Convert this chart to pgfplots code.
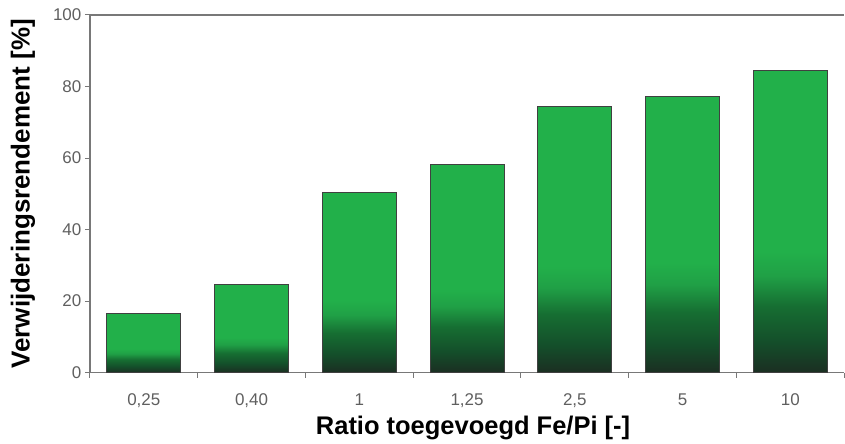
\documentclass[border=0pt]{standalone}
\usepackage{pgfplots}
\pgfplotsset{compat=1.18}
\usepackage{fontspec}
\setmainfont{Liberation Sans}
\definecolor{bgreen}{RGB}{34,176,74}
\definecolor{bgreen2}{RGB}{32,160,70}
\definecolor{bmid}{RGB}{22,110,50}
\definecolor{bmid2}{RGB}{20,78,42}
\definecolor{bdark}{RGB}{27,46,34}
\definecolor{axisgray}{RGB}{120,120,120}
\definecolor{labgray}{RGB}{95,95,95}
\pgfdeclareverticalshading{barshade}{100bp}{color(0bp)=(bdark); color(25bp)=(bdark); color(30bp)=(bmid2); color(36bp)=(bmid); color(41bp)=(bgreen2); color(45bp)=(bgreen); color(100bp)=(bgreen)}
\pgfplotsset{gbar/.style={ybar, bar width=74pt, bar shift=0pt, draw=black!75, line width=0.9pt, shade, shading=barshade}}
\begin{document}
\begin{tikzpicture}
\begin{axis}[
  name=ax,
  scale only axis, width=755pt, height=358pt,
  xmin=-0.5, xmax=6.5, ymin=0, ymax=100,
  axis x line*=bottom, axis y line*=left,
  axis line style={-, draw=axisgray, line width=1.6pt},
  ytick={0,20,...,100},
  xtick={0,...,6},
  xticklabels={{0,25},{0,40},1,{1,25},{2,5},5,10},
  major x tick style={draw=none},
  minor xtick={-0.5,0.5,...,6.5},
  tick align=outside,
  tick style={draw=axisgray, line width=1pt},
  major tick length=5pt, minor tick length=5pt,
  /pgf/number format/assume math mode=true,
  ticklabel style={font=\fontsize{17}{20}\selectfont, text=labgray},
  xticklabel style={yshift=-12.5pt},
  xlabel={Ratio toegevoegd Fe/Pi [-]},
  ylabel={Verwijderingsrendement [\%]},
  xlabel style={font=\bfseries\fontsize{25.5}{28}\selectfont, at={([xshift=6pt]axis description cs:0.5,0)}, anchor=base, yshift=-62pt},
  ylabel style={font=\bfseries\fontsize{26}{30}\selectfont, at={([xshift=-67pt]axis description cs:0,0.5)}, anchor=center},
]
\addplot[gbar] coordinates {(0,16.6)};
\addplot[gbar] coordinates {(1,24.6)};
\addplot[gbar] coordinates {(2,50.4)};
\addplot[gbar] coordinates {(3,58.1)};
\addplot[gbar] coordinates {(4,74.4)};
\addplot[gbar] coordinates {(5,77.1)};
\addplot[gbar] coordinates {(6,84.6)};
\draw[axisgray, line width=1.6pt] (rel axis cs:0,1) -- (rel axis cs:1,1);
\end{axis}
\path ([xshift=-90pt,yshift=-71pt]ax.south west) rectangle ([yshift=15pt]ax.north east);
\end{tikzpicture}
\end{document}
